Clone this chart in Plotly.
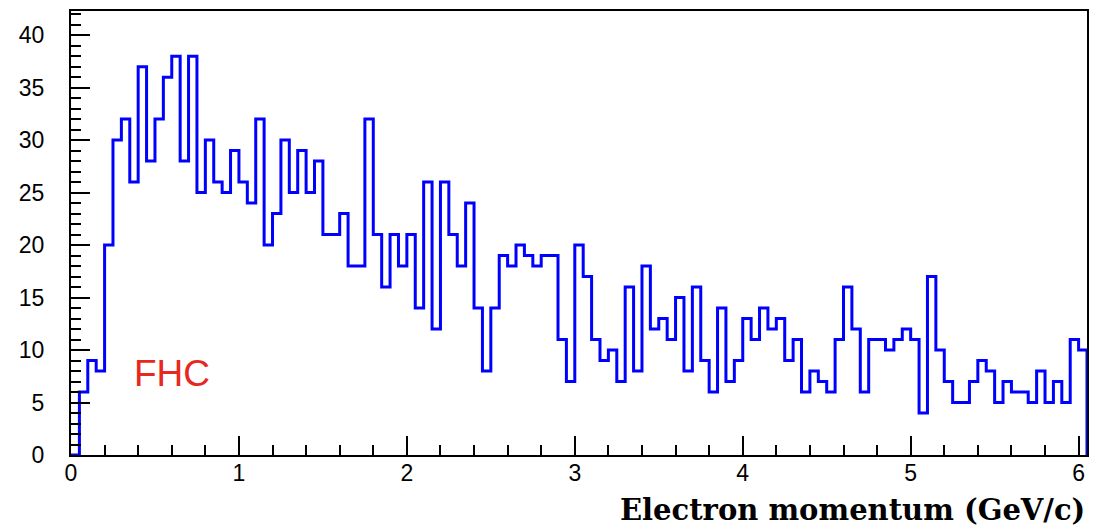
import numpy as np
import plotly.graph_objects as go

# Histogram: electron momentum, bins of 0.05 GeV/c from 0 to 6.05
bin_start = 0.0
bin_width = 0.05
counts = [0, 6, 9, 8, 20, 30, 32, 26, 37, 28,
          32, 36, 38, 28, 38, 25, 30, 26, 25, 29,
          26, 24, 32, 20, 23, 30, 25, 29, 25, 28,
          21, 21, 23, 18, 18, 32, 21, 16, 21, 18,
          21, 14, 26, 12, 26, 21, 18, 24, 14, 8,
          14, 19, 18, 20, 19, 18, 19, 19, 11, 7,
          20, 17, 11, 9, 10, 7, 16, 8, 18, 12,
          13, 11, 15, 8, 16, 9, 6, 14, 7, 9,
          13, 11, 14, 12, 13, 9, 11, 6, 8, 7,
          6, 11, 16, 12, 6, 11, 11, 10, 11, 12,
          11, 4, 17, 10, 7, 5, 5, 7, 9, 8,
          5, 7, 6, 6, 5, 8, 5, 7, 5, 11, 10]
x_tick_vals = [0, 1, 2, 3, 4, 5, 6]
y_tick_vals = [0, 5, 10, 15, 20, 25, 30, 35, 40]
label_text = "FHC"
x_title = "Electron momentum (GeV/c)"

n = len(counts)
edges = bin_start + bin_width * np.arange(n + 1)

fig = go.Figure()
fig.add_trace(go.Scatter(
    x=list(edges) + [edges[-1]],
    y=list(counts) + [counts[-1], 0],
    mode="lines",
    line=dict(shape="hv", color="rgb(0,0,255)", width=3),
    hoverinfo="skip",
    showlegend=False,
))

x_max = float(edges[-1])
fig.update_layout(
    width=1098, height=530,
    margin=dict(l=71, r=10, t=9, b=75),
    paper_bgcolor="white", plot_bgcolor="white",
    font=dict(family="Liberation Sans, Arial, sans-serif", color="black"),
    xaxis=dict(
        range=[0, x_max], tickvals=x_tick_vals,
        ticktext=[str(v) for v in x_tick_vals],
        ticks="inside", ticklen=19, tickwidth=1.5, tickcolor="black",
        minor=dict(dtick=0.2, ticks="inside", ticklen=10, tickwidth=1.5, tickcolor="black"),
        showline=True, linecolor="black", linewidth=2, mirror=True,
        showgrid=False, zeroline=False,
        tickfont=dict(size=23, color="black"),
        ticklabelstandoff=-4,
    ),
    yaxis=dict(
        range=[0, 42.3], tickvals=y_tick_vals,
        ticks="inside", ticklen=19, tickwidth=1.5, tickcolor="black",
        minor=dict(dtick=1, ticks="inside", ticklen=10, tickwidth=1.5, tickcolor="black"),
        showline=True, linecolor="black", linewidth=2, mirror=True,
        showgrid=False, zeroline=False,
        tickfont=dict(size=23, color="black"),
        ticklabelstandoff=20,
    ),
)

fig.add_annotation(
    x=0.604, y=7.75, xref="x", yref="y", text=label_text, showarrow=False,
    font=dict(family="Liberation Sans, Arial, sans-serif", size=37, color="#e8281e"),
    xanchor="center", yanchor="middle",
)
fig.add_annotation(
    x=1.0, y=0, xref="paper", yref="paper", yshift=-55,
    text="<b>" + x_title + "</b>", showarrow=False,
    font=dict(family="DejaVu Serif, serif", size=29, color="black"),
    xanchor="right", yanchor="middle",
)

fig.write_html("out.html")
